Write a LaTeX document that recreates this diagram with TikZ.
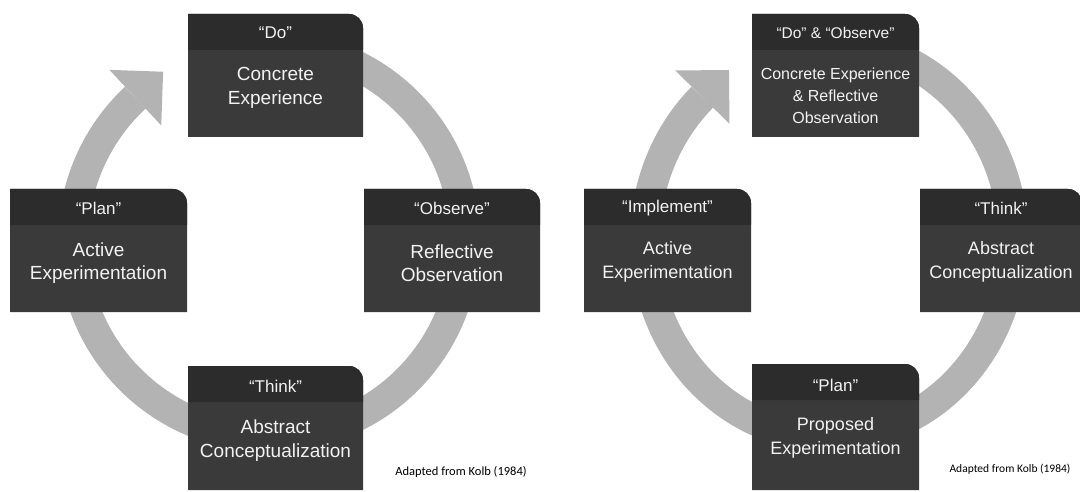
\documentclass[tikz,border=0pt]{standalone}
\usepackage{fontspec}
\setmainfont{Liberation Sans}
\newfontfamily\capfont{Carlito}
\usetikzlibrary{calc}
\definecolor{ringgray}{HTML}{B3B3B3}
\definecolor{bodygray}{HTML}{3A3A3A}
\definecolor{headgray}{HTML}{2C2C2C}
\definecolor{txtwhite}{HTML}{F2F2F2}
\tikzset{
  boxframe/.style={draw=none, inner sep=0pt, outer sep=0pt, rectangle},
  headtxt/.style={text=txtwhite, font=\fontsize{17}{20}\selectfont, inner sep=0pt},
  bodytxt/.style={text=txtwhite, font=\fontsize{19}{23.5}\selectfont, align=center, inner sep=0pt},
  bodysmall/.style={text=txtwhite, font=\fontsize{18}{24}\selectfont, align=center, inner sep=0pt},
  ring/.style={draw=ringgray, line width=30pt},
  capt/.style={text=black, font=\capfont\fontsize{12.5}{14}\selectfont, inner sep=0pt}
}
\newcommand{\kolbbox}[5]{%
  \node[boxframe, minimum width=#4pt, minimum height=#5pt] (#1) at (#2,#3) {};
  \fill[bodygray] (#1.south west) -- (#1.north west) -- ([xshift=-14pt]#1.north east)
     arc[start angle=90, end angle=0, radius=14pt] -- (#1.south east) -- cycle;
  \fill[headgray] (#1.north west) -- ([xshift=-14pt]#1.north east)
     arc[start angle=90, end angle=0, radius=14pt] -- ([yshift=-36pt]#1.north east)
     -- ([yshift=-36pt]#1.north west) -- cycle;
}
\begin{document}
\begin{tikzpicture}[x=1pt, y=1pt]
\useasboundingbox[fill=white] (0,0) rectangle (1080,491);
% ---------- left cycle ----------
\coordinate (c1) at (269,250);
\draw[ring] ($(c1)+(100:196)$) arc[start angle=100, end angle=-227, radius=196];
\fill[ringgray] ($(c1)+(133:234)$) -- ($(c1)+(133:196)+(43:38)$) -- ($(c1)+(133:158)$) -- cycle;

\kolbbox{do}{275.5}{415.5}{175}{123}
\node[headtxt] (doh) at ([yshift=-19pt]do.north) {“Do”};
\node[bodytxt] (dob) at ([yshift=-74pt]do.north) {Concrete\\Experience};

\kolbbox{obs}{452}{240.5}{176}{123}
\node[headtxt] (obsh) at ([yshift=-19pt]obs.north) {“Observe”};
\node[bodytxt] (obsb) at ([yshift=-74pt]obs.north) {Reflective\\Observation};

\kolbbox{thk}{275.5}{63}{175}{124}
\node[headtxt] (thkh) at ([yshift=-20pt]thk.north) {“Think”};
\node[bodytxt] (thkb) at ([yshift=-74.5pt]thk.north) {Abstract\\Conceptualization};

\kolbbox{pln}{98.5}{240.5}{177}{123}
\node[headtxt] (plnh) at ([yshift=-19pt]pln.north) {“Plan”};
\node[bodytxt] (plnb) at ([yshift=-74pt]pln.north) {Active\\Experimentation};

\node[capt] (cap1) at (461,19) {Adapted from Kolb (1984)};

% ---------- right cycle ----------
\coordinate (c2) at (829,251);
\draw[ring] ($(c2)+(100:184 and 197)$) arc[start angle=100, end angle=-226.5, x radius=184, y radius=197];
\coordinate (b2) at ($(c2)+(133.5:184 and 197)$);
\fill[ringgray] ($(b2)+(135.5:38)$) -- ($(b2)+(45.5:38)$) -- ($(b2)+(-44.5:38)$) -- cycle;

\kolbbox{rtop}{835.5}{415.5}{167}{123}
\node[headtxt, font=\fontsize{15.5}{18}\selectfont] (rtoph) at ([yshift=-19pt]rtop.north) {“Do” \& “Observe”};
\node[bodytxt, font=\fontsize{16}{22}\selectfont] (rtopb) at ([yshift=-82pt]rtop.north) {Concrete Experience\\\& Reflective\\Observation};

\kolbbox{rimp}{667.5}{240.5}{167}{123}
\node[headtxt] (rimph) at ([yshift=-19pt]rimp.north) {“Implement”};
\node[bodysmall] (rimpb) at ([yshift=-73pt]rimp.north) {Active\\Experimentation};

\kolbbox{rthk}{1001}{240.5}{162}{123}
\node[headtxt] (rthkh) at ([yshift=-19pt]rthk.north) {“Think”};
\node[bodysmall] (rthkb) at ([yshift=-73pt]rthk.north) {Abstract\\Conceptualization};

\kolbbox{rpln}{835.5}{64}{167}{126}
\node[headtxt] (rplnh) at ([yshift=-21pt]rpln.north) {“Plan”};
\node[bodysmall] (rplnb) at ([yshift=-74pt]rpln.north) {Proposed\\Experimentation};

\node[capt, font=\capfont\fontsize{11.5}{13}\selectfont] (cap2) at (1010,22) {Adapted from Kolb (1984)};
\end{tikzpicture}
\end{document}
